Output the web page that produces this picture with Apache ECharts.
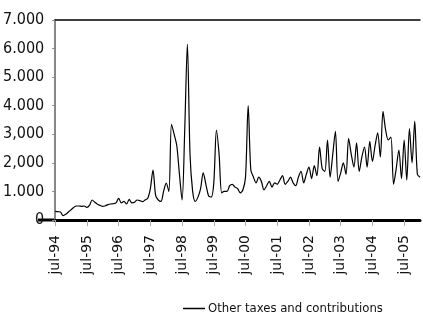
<!DOCTYPE html>
<html>
<head>
<meta charset="utf-8">
<script src="https://cdn.jsdelivr.net/npm/echarts@6/dist/echarts.min.js"></script>
<style>
  html, body { margin: 0; padding: 0; background: #fff; }
  #chart { width: 423px; height: 328px; }
</style>
</head>
<body>
<div id="chart"></div>
<script>
// monthly, jul-94 .. jan-06
const monthNames = ["jan", "feb", "mar", "apr", "may", "jun", "jul", "aug", "sep", "oct", "nov", "dec"];
const months = [];
for (let y = 1994, m = 6; y < 2006 || m === 0; ) {
  months.push(monthNames[m] + "-" + String(y % 100).padStart(2, "0"));
  if (y === 2006) break;
  m++;
  if (m === 12) { m = 0; y++; }
}

const otherTaxes = [
  300, 290, 280, 150, 200, 280, 360, 440, 490, 490, 480, 490,
  440, 520, 700, 620, 550, 510, 480, 500, 540, 560, 570, 600,
  760, 600, 650, 560, 720, 600, 620, 700, 680, 640, 700, 760,
  1100, 1750, 850, 700, 650, 1000, 1290, 1000, 3350, 3000, 2600, 1600,
  700, 3150, 6150, 2300, 1000, 650, 800, 1100, 1650, 1250, 850, 800,
  1300, 3150, 2300, 950, 1000, 1000, 1200, 1250, 1150, 1100, 950, 1050,
  1500, 4000, 1750, 1500, 1300, 1500, 1350, 1050, 1200, 1350, 1150, 1300,
  1250, 1400, 1550, 1250, 1350, 1500, 1300, 1200, 1500, 1700, 1300, 1600,
  1850, 1450, 1900, 1550, 2550, 1800, 1700, 2800, 1500, 2300, 3100, 1350,
  1650, 2000, 1600, 2850, 2300, 1850, 2700, 1700, 2200, 2550, 1850, 2750,
  2050, 2600, 3050, 2200, 3800, 3150, 2800, 2900, 1250, 1800, 2450, 1450,
  2800, 1400, 3200, 2000, 3450, 1600, 1500
];

const yTickLabels = ["0", "1.000", "2,000", "3,000", "4.000", "5.000", "6.000", "7.000"];
const seriesName = "Other taxes and contributions";

const narrow = "'DejaVu Sans Condensed', 'Liberation Sans Narrow', 'Liberation Sans', sans-serif";

const chart = echarts.init(document.getElementById("chart"));
chart.setOption({
  animation: false,
  backgroundColor: "#fff",
  grid: { left: 55, right: 3, top: 20, bottom: 108 },
  legend: {
    left: 178,
    top: 297,
    icon: "rect",
    itemWidth: 22,
    itemHeight: 1.5,
    itemGap: 4,
    textStyle: { fontFamily: narrow, fontSize: 13, color: "#111", padding: [0, 0, 0, -2] },
    data: [seriesName]
  },
  graphic: [
    { type: "line", shape: { x1: 38, y1: 220, x2: 56, y2: 220 }, style: { stroke: "#000", lineWidth: 3 } }
  ],
  xAxis: [
    {
      type: "category",
      data: months,
      boundaryGap: false,
      axisLine: { lineStyle: { color: "#000", width: 3 } },
      axisTick: {
        interval: (i) => i % 12 === 0,
        length: 6,
        lineStyle: { color: "#aaa" }
      },
      axisLabel: {
        interval: (i) => i % 12 === 0,
        rotate: 90,
        margin: 15,
        fontFamily: "'DejaVu Sans', sans-serif",
        fontSize: 14,
        color: "#111"
      },
      splitLine: { show: false }
    },
    {
      type: "category",
      data: months,
      position: "top",
      boundaryGap: false,
      axisLine: { lineStyle: { color: "#000", width: 1.5 } },
      axisTick: { show: false },
      axisLabel: { show: false }
    }
  ],
  yAxis: {
    type: "value",
    min: 0,
    max: 7000,
    interval: 1000,
    axisLine: { show: true, onZero: false, lineStyle: { color: "#888", width: 2 } },
    axisTick: { show: true, length: 3, lineStyle: { color: "#888" } },
    splitLine: { show: false },
    axisLabel: {
      margin: 11,
      fontFamily: narrow,
      fontSize: 16,
      color: "#111",
      formatter: (v) => yTickLabels[Math.round(v / 1000)]
    }
  },
  series: [
    {
      name: seriesName,
      type: "line",
      data: otherTaxes,
      smooth: 0.3,
      showSymbol: false,
      symbol: "none",
      lineStyle: { color: "#000", width: 1.2 },
      itemStyle: { color: "#000" }
    }
  ]
});
</script>
</body>
</html>
